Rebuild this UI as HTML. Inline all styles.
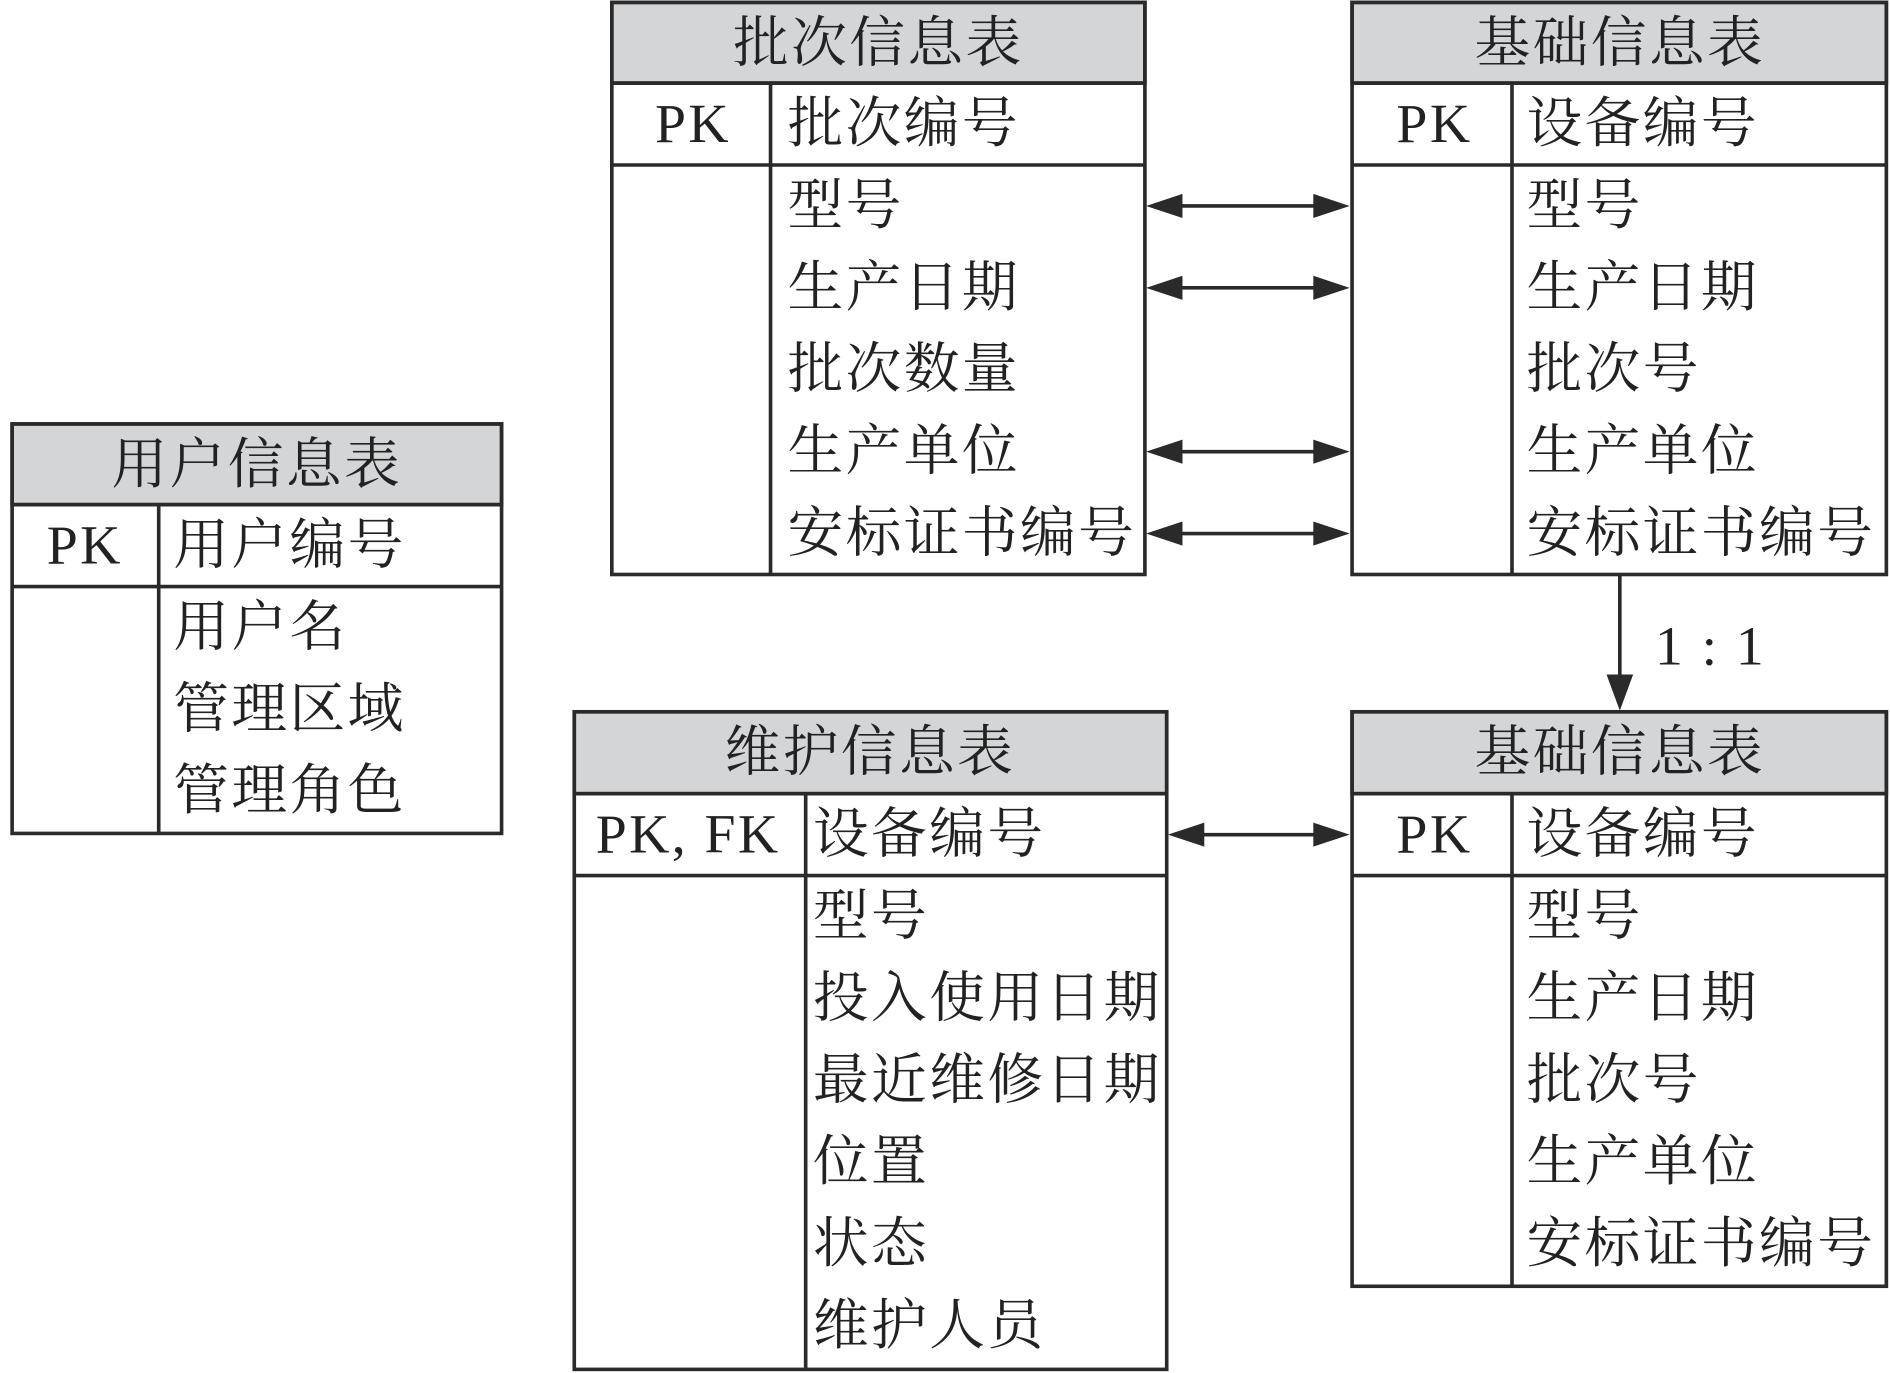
<!DOCTYPE html>
<html><head><meta charset="utf-8"><style>
html,body{margin:0;padding:0;background:#fff;}
svg{display:block;}
text{font-family:"Liberation Serif","Noto Serif CJK SC",serif;fill:#222;font-size:46px;letter-spacing:2px;}
</style></head><body>
<svg width="1890" height="1373" viewBox="0 0 1560 1140" preserveAspectRatio="none" xmlns="http://www.w3.org/2000/svg">
<g stroke="#2a2a2a" stroke-width="3" fill="none">
<!-- 批次信息表 -->
<rect x="505" y="2" width="440" height="67" fill="#d4d5d7"/>
<rect x="505" y="2" width="440" height="475"/>
<line x1="505" y1="69" x2="945" y2="69"/><line x1="505" y1="137" x2="945" y2="137"/>
<line x1="636" y1="69" x2="636" y2="477"/>
<!-- 基础 top -->
<rect x="1116" y="2" width="441" height="67" fill="#d4d5d7"/>
<rect x="1116" y="2" width="441" height="475"/>
<line x1="1116" y1="69" x2="1557" y2="69"/><line x1="1116" y1="137" x2="1557" y2="137"/>
<line x1="1248" y1="69" x2="1248" y2="477"/>
<!-- 用户 -->
<rect x="10" y="352" width="404" height="67" fill="#d4d5d7"/>
<rect x="10" y="352" width="404" height="340"/>
<line x1="10" y1="419" x2="414" y2="419"/><line x1="10" y1="487" x2="414" y2="487"/>
<line x1="131" y1="419" x2="131" y2="692"/>
<!-- 维护 -->
<rect x="474" y="591" width="489" height="68" fill="#d4d5d7"/>
<rect x="474" y="591" width="489" height="546"/>
<line x1="474" y1="659" x2="963" y2="659"/><line x1="474" y1="727" x2="963" y2="727"/>
<line x1="665" y1="659" x2="665" y2="1137"/>
<!-- 基础 bottom -->
<rect x="1116" y="591" width="441" height="68" fill="#d4d5d7"/>
<rect x="1116" y="591" width="441" height="477"/>
<line x1="1116" y1="659" x2="1557" y2="659"/><line x1="1116" y1="727" x2="1557" y2="727"/>
<line x1="1248" y1="659" x2="1248" y2="1068"/>
<!-- arrows lines -->
<line x1="960" y1="171" x2="1100" y2="171"/>
<line x1="960" y1="239" x2="1100" y2="239"/>
<line x1="960" y1="375" x2="1100" y2="375"/>
<line x1="960" y1="443" x2="1100" y2="443"/>
<line x1="978" y1="693" x2="1100" y2="693"/>
<line x1="1337" y1="478" x2="1337" y2="570"/>
</g>
<g fill="#2a2a2a">
<polygon points="946,171 976,161 976,181"/><polygon points="1114,171 1084,161 1084,181"/>
<polygon points="946,239 976,229 976,249"/><polygon points="1114,239 1084,229 1084,249"/>
<polygon points="946,375 976,365 976,385"/><polygon points="1114,375 1084,365 1084,385"/>
<polygon points="946,443 976,433 976,453"/><polygon points="1114,443 1084,433 1084,453"/>
<polygon points="964,693 994,683 994,703"/><polygon points="1114,693 1084,683 1084,703"/>
<polygon points="1337,590 1326,560 1348,560"/>
</g>
<g dominant-baseline="central">
<text x="725" y="36" text-anchor="middle">批次信息表</text>
<text x="572" y="103" text-anchor="middle">PK</text>
<text x="650" y="103">批次编号</text>
<text x="650" y="171">型号</text>
<text x="650" y="239">生产日期</text>
<text x="650" y="307">批次数量</text>
<text x="650" y="375">生产单位</text>
<text x="650" y="443">安标证书编号</text>

<text x="1337" y="36" text-anchor="middle">基础信息表</text>
<text x="1184" y="103" text-anchor="middle">PK</text>
<text x="1260" y="103">设备编号</text>
<text x="1260" y="171">型号</text>
<text x="1260" y="239">生产日期</text>
<text x="1260" y="307">批次号</text>
<text x="1260" y="375">生产单位</text>
<text x="1260" y="443">安标证书编号</text>

<text x="212" y="386" text-anchor="middle">用户信息表</text>
<text x="70" y="453" text-anchor="middle">PK</text>
<text x="143" y="453">用户编号</text>
<text x="143" y="521">用户名</text>
<text x="143" y="589">管理区域</text>
<text x="143" y="657">管理角色</text>

<text x="718" y="625" text-anchor="middle">维护信息表</text>
<text x="568" y="693" text-anchor="middle">PK, FK</text>
<text x="671" y="693">设备编号</text>
<text x="671" y="761">型号</text>
<text x="671" y="829">投入使用日期</text>
<text x="671" y="897">最近维修日期</text>
<text x="671" y="965">位置</text>
<text x="671" y="1033">状态</text>
<text x="671" y="1101">维护人员</text>

<text x="1337" y="625" text-anchor="middle">基础信息表</text>
<text x="1184" y="693" text-anchor="middle">PK</text>
<text x="1260" y="693">设备编号</text>
<text x="1260" y="761">型号</text>
<text x="1260" y="829">生产日期</text>
<text x="1260" y="897">批次号</text>
<text x="1260" y="965">生产单位</text>
<text x="1260" y="1033">安标证书编号</text>

<text x="1366" y="537">1 : 1</text>
</g>
</svg>
</body></html>
